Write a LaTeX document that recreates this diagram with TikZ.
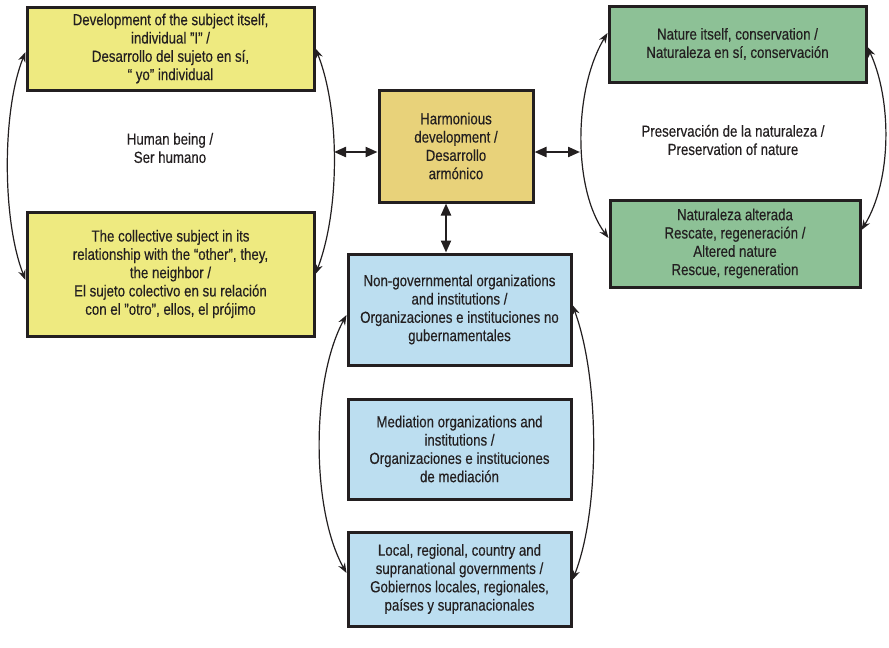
\documentclass[tikz,border=0pt]{standalone}
\usepackage{fontspec}
\setmainfont{Liberation Sans}[FakeStretch=0.83,FakeBold=0.3]
\usetikzlibrary{arrows.meta}
\definecolor{ylw}{RGB}{238,234,128}
\definecolor{tanb}{RGB}{232,210,122}
\definecolor{grn}{RGB}{141,193,150}
\definecolor{blu}{RGB}{188,222,240}
\definecolor{ink}{RGB}{35,31,32}
\newcommand{\sq}{\symbol{34}}
\begin{document}
\begin{tikzpicture}[x=1pt,y=-1pt,
 txt/.style={align=center, text=ink, font=\fontsize{16}{18.3}\selectfont},
 box/.style={txt, draw=ink, line width=3pt, inner sep=2pt},
 curv/.style={draw=ink, line width=1.2pt, {Stealth[length=10pt,width=7.5pt]}-{Stealth[length=10pt,width=7.5pt]}},
 dbl/.style={draw=ink, line width=2.2pt, {Triangle[length=12pt,width=10pt]}-{Triangle[length=12pt,width=10pt]}},
]
\useasboundingbox (0,0) rectangle (889,648);
\fill[white] (0,0) rectangle (889,648);

% yellow
\node[box, fill=ylw, minimum width=287, minimum height=83] (y1) at (170.5,48.5)
 {Development of the subject itself,\\individual \sq I\sq{} /\\Desarrollo del sujeto en sí,\\“ yo” individual};
\node[box, fill=ylw, minimum width=287, minimum height=124] (y2) at (170.5,274)
 {The collective subject in its\\relationship with the “other”, they,\\the neighbor /\\El sujeto colectivo en su relación\\con el \sq otro\sq, ellos, el prójimo};
\node[txt] (hb) at (170,148) {Human being /\\Ser humano};

% center
\node[box, fill=tanb, minimum width=154, minimum height=112] (hd) at (456,146)
 {Harmonious\\development /\\Desarrollo\\armónico};

% green
\node[box, fill=grn, minimum width=257, minimum height=76] (g1) at (737.5,44)
 {Nature itself, conservation /\\Naturaleza en sí, conservación};
\node[box, fill=grn, minimum width=250, minimum height=87] (g2) at (735,243.5)
 {Naturaleza alterada\\Rescate, regeneración /\\Altered nature\\Rescue, regeneration};
\node[txt] (pn) at (733,140) {Preservación de la naturaleza /\\Preservation of nature};

% blue
\node[box, fill=blu, minimum width=223, minimum height=111] (b1) at (459.5,309.5)
 {Non-governmental organizations\\and institutions /\\Organizaciones e instituciones no\\gubernamentales};
\node[box, fill=blu, minimum width=223, minimum height=100] (b2) at (459.5,449)
 {Mediation organizations and\\institutions /\\Organizaciones e instituciones\\de mediación};
\node[box, fill=blu, minimum width=223, minimum height=94] (b3) at (459.5,579)
 {Local, regional, country and\\supranational governments /\\Gobiernos locales, regionales,\\países y supranacionales};

% curved connectors
\draw[curv] ([yshift=-6pt]y2.west) .. controls (2,220) and (2,110) .. ([yshift=-3.5pt]y1.west);
\draw[curv] (y1.east) .. controls (340,110) and (340,210) .. (y2.east);
\draw[curv] ([yshift=11pt]g1.west) .. controls (573,90) and (573,190) .. ([yshift=5.5pt]g2.west);
\draw[curv] ([yshift=13.5pt]g2.east) .. controls (892,180) and (892,100) .. ([yshift=-3pt]g1.east);
\draw[curv] ([yshift=6pt]b3.west) .. controls (311,510) and (311,380) .. ([yshift=-5.5pt]b1.west);
\draw[curv] ([yshift=4.5pt]b1.east) .. controls (600,380) and (600,510) .. ([yshift=-1pt]b3.east);

% straight double arrows
\coordinate (hl) at (334,152);
\coordinate (hr) at (580,152);
\coordinate (vx) at (446,0);
\draw[dbl] (hl) -- (hl -| hd.west);
\draw[dbl] (hr -| hd.east) -- (hr);
\draw[dbl] (vx |- hd.south) -- (vx |- b1.north);
\end{tikzpicture}
\end{document}
